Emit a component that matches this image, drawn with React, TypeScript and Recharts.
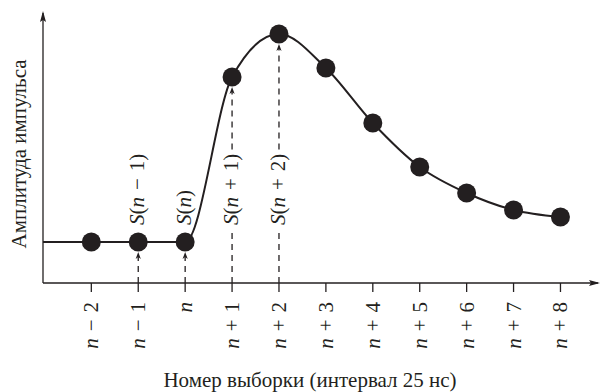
import React from "react";
import {
  ComposedChart,
  Line,
  Scatter,
  XAxis,
  YAxis,
  ReferenceLine,
} from "recharts";

// ---- data ----
const sampleIndex = [-2, -1, 0, 1, 2, 3, 4, 5, 6, 7, 8];
const amplitude = [1.64, 1.64, 1.64, 8.24, 9.96, 8.6, 6.4, 4.64, 3.6, 2.92, 2.64];
const SP = "\u2004";
const tickOffsets = [
  `${SP}\u2212${SP}2`, `${SP}\u2212${SP}1`, "", `${SP}+${SP}1`, `${SP}+${SP}2`, `${SP}+${SP}3`,
  `${SP}+${SP}4`, `${SP}+${SP}5`, `${SP}+${SP}6`, `${SP}+${SP}7`, `${SP}+${SP}8`,
];
const markedIndex = [-1, 0, 1, 2];
const markedSuffix = [`${SP}\u2212${SP}1)`, ")", `${SP}+${SP}1)`, `${SP}+${SP}2)`];
const xMin = -3.03;
const xMax = 8.8;
const yMax = 10.8;
const xTitle = "Номер выборки (интервал 25 нс)";
const yTitle = "Амплитуда импульса";

const samples = sampleIndex.map((x, i) => ({ x, amp: amplitude[i] }));
const curve = [{ x: xMin, amp: amplitude[0] }, ...samples];

const INK = "#231f20";
const FONT = "'Liberation Serif', 'Times New Roman', serif";
const FS = 21;
const LABEL_BASE = 225;

const XTick = (props: any) => {
  const { x, payload } = props;
  const i = sampleIndex.indexOf(payload.value);
  return (
    <text
      transform={`translate(${x + 7},302) rotate(-90)`}
      textAnchor="end"
      fontFamily={FONT}
      fontSize={FS}
      fill={INK}
    >
      <tspan fontStyle="italic">n</tspan>
      <tspan>{tickOffsets[i]}</tspan>
    </text>
  );
};

const makeMarker = (k: number) => (props: any) => {
  const { x1, y1, y2 } = props;
  const bottom = Math.max(y1, y2);
  const tip = Math.min(y1, y2) + 10;
  const labelTop = LABEL_BASE - FS * 3.45 - 3;
  const segs: Array<[number, number]> =
    tip < labelTop ? [[bottom, LABEL_BASE + 3], [labelTop, tip + 3]] : [[bottom, tip + 3]];
  return (
    <g>
      {segs.map(([a, b], j) => (
        <line key={j} x1={x1} x2={x1} y1={a} y2={b} stroke={INK} strokeWidth={1.3} strokeDasharray="6 5" />
      ))}
      <path d={`M${x1},${tip} L${x1 - 2.6},${tip + 7} L${x1},${tip + 5} L${x1 + 2.6},${tip + 7} Z`} fill={INK} />
      <text
        transform={`translate(${x1 + 6},${LABEL_BASE}) rotate(-90)`}
        textAnchor="start"
        fontFamily={FONT}
        fontSize={FS}
        fill={INK}
      >
        <tspan fontStyle="italic">S</tspan>
        <tspan>(</tspan>
        <tspan fontStyle="italic">n</tspan>
        <tspan>{markedSuffix[k]}</tspan>
      </text>
    </g>
  );
};

const XLabel = (props: any) => {
  const vb = props.viewBox || { x: 43, y: 283, width: 555, height: 109 };
  const ax = vb.x + vb.width;
  const ay = vb.y;
  return (
    <g>
      <path d={`M${ax - 9},${ay - 3} L${ax + 2},${ay} L${ax - 9},${ay + 3} L${ax - 7},${ay} Z`} fill={INK} />
      <text x={310} y={387} textAnchor="middle" fontFamily={FONT} fontSize={FS} fill={INK}>
        {xTitle}
      </text>
    </g>
  );
};

const YLabel = (props: any) => {
  const vb = props.viewBox || { x: 0, y: 13, width: 43, height: 270 };
  const ax = vb.x + vb.width;
  const ay = vb.y;
  return (
    <g>
      <path d={`M${ax - 3},${ay + 9} L${ax},${ay - 2} L${ax + 3},${ay + 9} L${ax},${ay + 7} Z`} fill={INK} />
      <text
        transform={`translate(26,154) rotate(-90)`}
        textAnchor="middle"
        fontFamily={FONT}
        fontSize={FS}
        fill={INK}
      >
        {yTitle}
      </text>
    </g>
  );
};

export default function App() {
  return (
    <div style={{ position: "absolute", left: 0, top: 0, background: "#fff" }}>
      <ComposedChart
        width={603}
        height={392}
        margin={{ top: 13, right: 5, left: 0, bottom: 0 }}
      >
        <XAxis
          type="number"
          dataKey="x"
          domain={[xMin, xMax]}
          ticks={sampleIndex}
          interval={0}
          height={109}
          tickSize={9}
          tickLine={{ stroke: INK, strokeWidth: 1.3 }}
          axisLine={{ stroke: INK, strokeWidth: 1.3 }}
          tick={<XTick />}
          label={<XLabel />}
          allowDataOverflow
        />
        <YAxis
          type="number"
          dataKey="amp"
          domain={[0, yMax]}
          width={43}
          tick={false}
          tickLine={false}
          axisLine={{ stroke: INK, strokeWidth: 1.3 }}
          label={<YLabel />}
          allowDataOverflow
        />
        <Line
          data={curve}
          dataKey="amp"
          type="monotone"
          stroke={INK}
          strokeWidth={2}
          dot={false}
          activeDot={false}
          isAnimationActive={false}
        />
        {markedIndex.map((idx, k) => (
          <ReferenceLine
            key={idx}
            segment={[
              { x: idx, y: 0 },
              { x: idx, y: amplitude[sampleIndex.indexOf(idx)] },
            ]}
            shape={makeMarker(k)}
          />
        ))}
        <Scatter
          data={samples}
          dataKey="amp"
          isAnimationActive={false}
          shape={(p: any) => <circle cx={p.cx} cy={p.cy} r={9.5} fill={INK} />}
        />
      </ComposedChart>
    </div>
  );
}
